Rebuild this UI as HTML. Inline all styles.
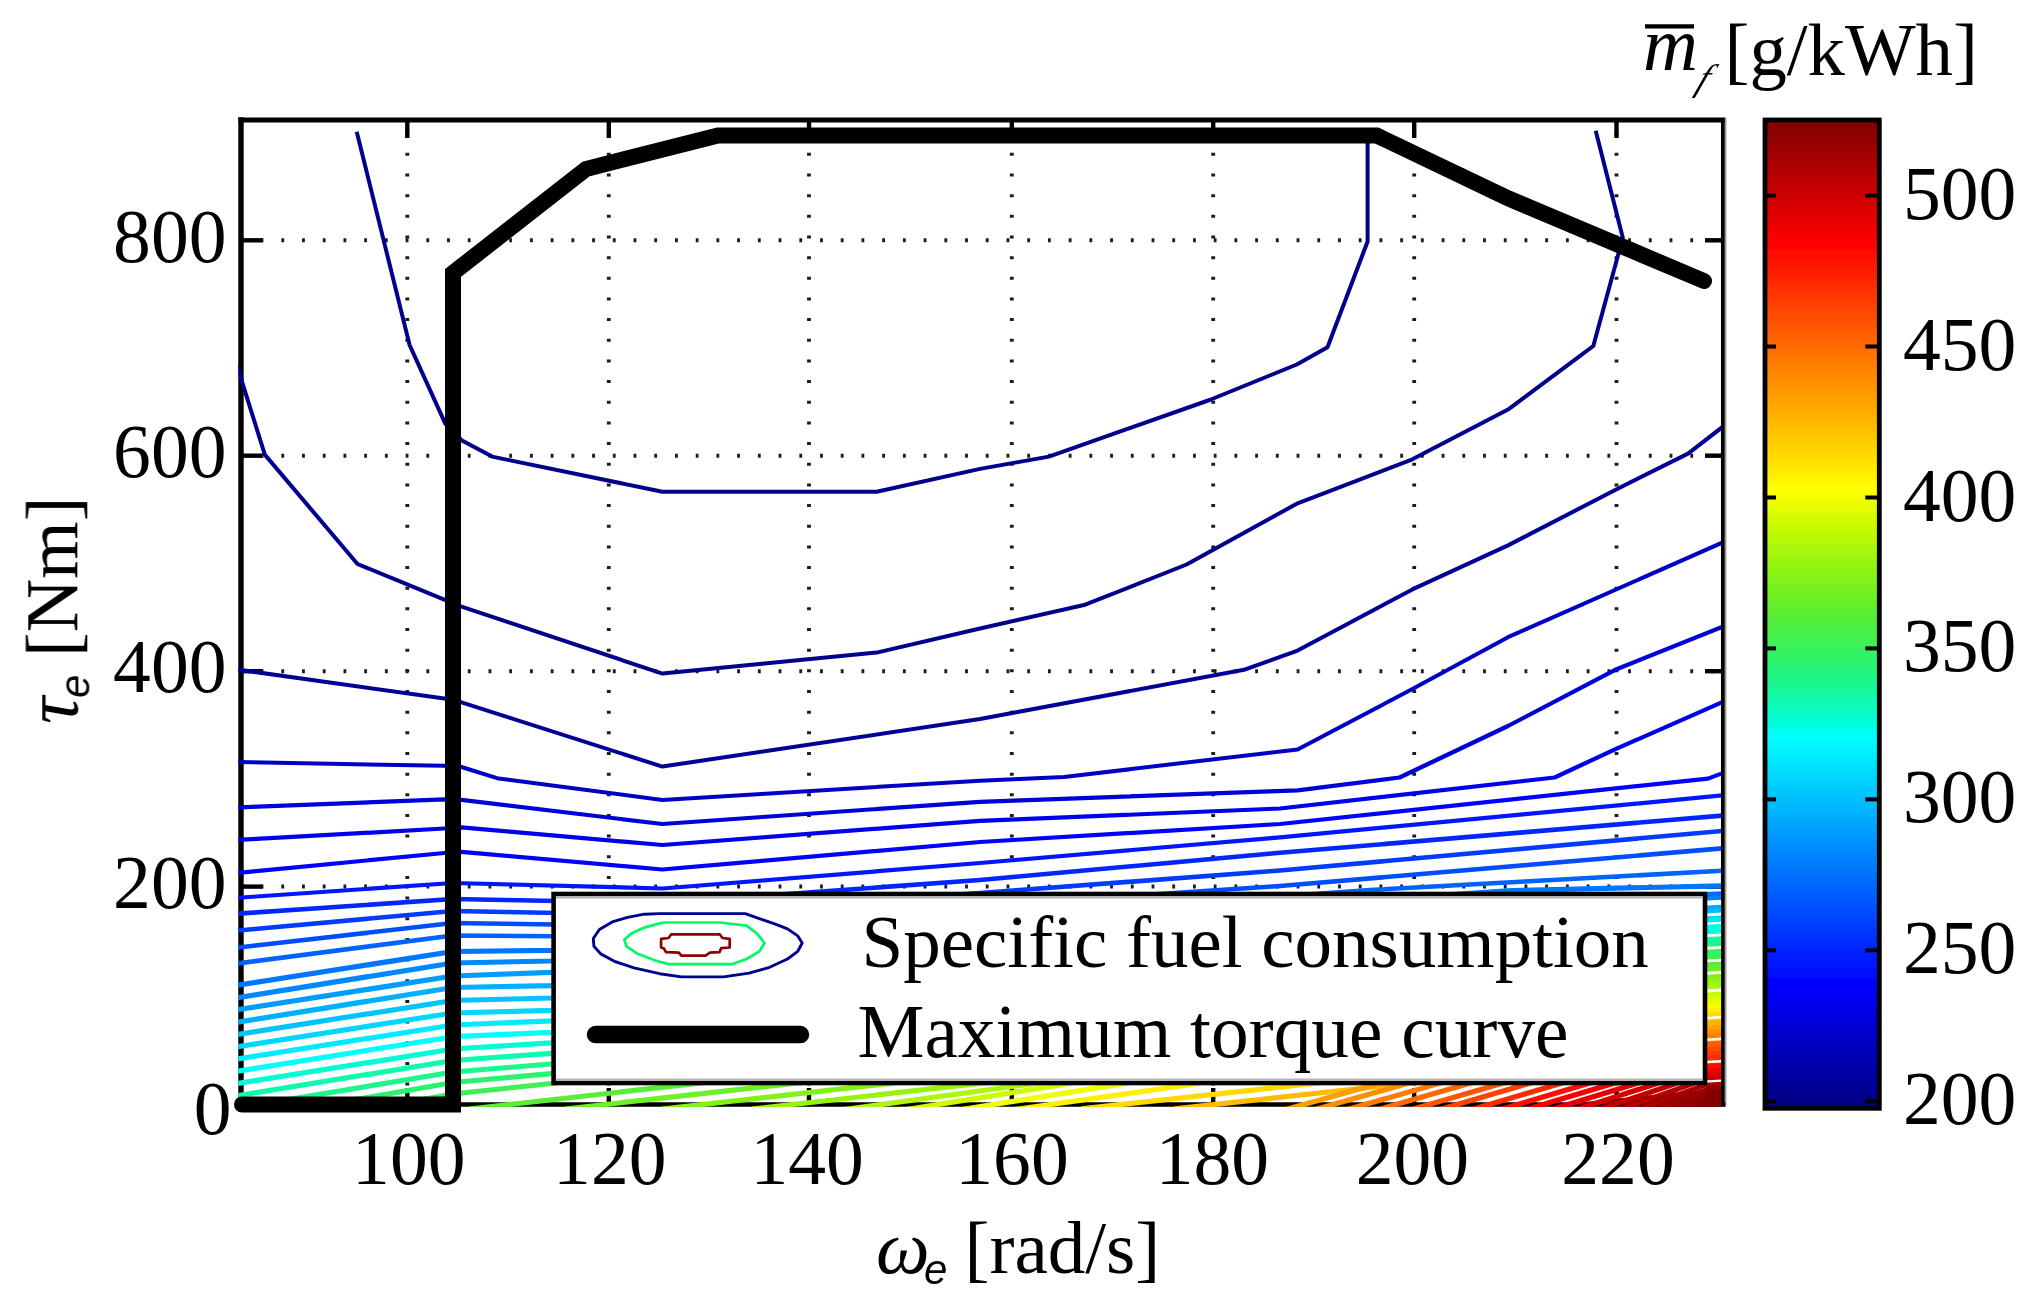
<!DOCTYPE html>
<html lang="en"><head><meta charset="utf-8"><title>Specific fuel consumption map</title>
<style>html,body{margin:0;padding:0;background:#fff}svg{display:block}text{font-family:"Liberation Serif","DejaVu Serif",serif;fill:#000}.i{font-style:italic}.ss{font-family:"Liberation Sans","DejaVu Sans",sans-serif;font-style:italic}</style></head><body>
<svg width="2032" height="1307" viewBox="0 0 2032 1307">
<defs>
<clipPath id="axclip"><rect x="238.3" y="117.4" width="1482.8" height="989.5"/></clipPath>
<linearGradient id="jet" x1="0" y1="1" x2="0" y2="0"><stop offset="0.0000" stop-color="#000080"/><stop offset="0.0156" stop-color="#00008f"/><stop offset="0.0312" stop-color="#00009f"/><stop offset="0.0469" stop-color="#0000af"/><stop offset="0.0625" stop-color="#0000bf"/><stop offset="0.0781" stop-color="#0000cf"/><stop offset="0.0938" stop-color="#0000df"/><stop offset="0.1094" stop-color="#0000ef"/><stop offset="0.1250" stop-color="#0000ff"/><stop offset="0.1406" stop-color="#0010ff"/><stop offset="0.1562" stop-color="#0020ff"/><stop offset="0.1719" stop-color="#0030ff"/><stop offset="0.1875" stop-color="#0040ff"/><stop offset="0.2031" stop-color="#0050ff"/><stop offset="0.2188" stop-color="#0060ff"/><stop offset="0.2344" stop-color="#0070ff"/><stop offset="0.2500" stop-color="#0080ff"/><stop offset="0.2656" stop-color="#008fff"/><stop offset="0.2812" stop-color="#009fff"/><stop offset="0.2969" stop-color="#00afff"/><stop offset="0.3125" stop-color="#00bfff"/><stop offset="0.3281" stop-color="#00cfff"/><stop offset="0.3438" stop-color="#00dfff"/><stop offset="0.3594" stop-color="#00efff"/><stop offset="0.3750" stop-color="#00ffff"/><stop offset="0.3906" stop-color="#04fddc"/><stop offset="0.4062" stop-color="#0bfbbc"/><stop offset="0.4219" stop-color="#15f89e"/><stop offset="0.4375" stop-color="#20f684"/><stop offset="0.4531" stop-color="#2df46c"/><stop offset="0.4688" stop-color="#3bf257"/><stop offset="0.4844" stop-color="#4aef44"/><stop offset="0.5000" stop-color="#5aed34"/><stop offset="0.5156" stop-color="#6cef26"/><stop offset="0.5312" stop-color="#7ef21b"/><stop offset="0.5469" stop-color="#91f412"/><stop offset="0.5625" stop-color="#a6f60b"/><stop offset="0.5781" stop-color="#bbf805"/><stop offset="0.5938" stop-color="#d1fb02"/><stop offset="0.6094" stop-color="#e7fd00"/><stop offset="0.6250" stop-color="#ffff00"/><stop offset="0.6406" stop-color="#ffef00"/><stop offset="0.6562" stop-color="#ffdf00"/><stop offset="0.6719" stop-color="#ffcf00"/><stop offset="0.6875" stop-color="#ffbf00"/><stop offset="0.7031" stop-color="#ffaf00"/><stop offset="0.7188" stop-color="#ff9f00"/><stop offset="0.7344" stop-color="#ff8f00"/><stop offset="0.7500" stop-color="#ff8000"/><stop offset="0.7656" stop-color="#ff7000"/><stop offset="0.7812" stop-color="#ff6000"/><stop offset="0.7969" stop-color="#ff5000"/><stop offset="0.8125" stop-color="#ff4000"/><stop offset="0.8281" stop-color="#ff3000"/><stop offset="0.8438" stop-color="#ff2000"/><stop offset="0.8594" stop-color="#ff1000"/><stop offset="0.8750" stop-color="#ff0000"/><stop offset="0.8906" stop-color="#ef0000"/><stop offset="0.9062" stop-color="#df0000"/><stop offset="0.9219" stop-color="#cf0000"/><stop offset="0.9375" stop-color="#bf0000"/><stop offset="0.9531" stop-color="#af0000"/><stop offset="0.9688" stop-color="#9f0000"/><stop offset="0.9844" stop-color="#8f0000"/><stop offset="1.0000" stop-color="#800000"/></linearGradient>
<filter id="soft" x="-2%" y="-2%" width="104%" height="104%"><feGaussianBlur stdDeviation="0.75"/></filter>
</defs>
<rect width="2032" height="1307" fill="#fff"/>
<g filter="url(#soft)">
<g stroke="#1a1a1a" stroke-width="3.8" fill="none" stroke-dasharray="3 17.66">
<line x1="407.3" y1="1106.2" x2="407.3" y2="120.0"/>
<line x1="608.8" y1="1106.2" x2="608.8" y2="120.0"/>
<line x1="809.0" y1="1106.2" x2="809.0" y2="120.0"/>
<line x1="1011.8" y1="1106.2" x2="1011.8" y2="120.0"/>
<line x1="1213.2" y1="1106.2" x2="1213.2" y2="120.0"/>
<line x1="1414.2" y1="1106.2" x2="1414.2" y2="120.0"/>
<line x1="1616.5" y1="1106.2" x2="1616.5" y2="120.0"/>
</g>
<g stroke="#1a1a1a" stroke-width="4" fill="none" stroke-dasharray="2.8 17.92">
<line x1="239.9" y1="886.6" x2="1723.0" y2="886.6"/>
<line x1="239.9" y1="671.2" x2="1723.0" y2="671.2"/>
<line x1="239.9" y1="455.7" x2="1723.0" y2="455.7"/>
<line x1="239.9" y1="240.3" x2="1723.0" y2="240.3"/>
</g>
<g stroke="#000" stroke-linecap="square">
<line x1="241.0" y1="120.0" x2="241.0" y2="1104.5" stroke-width="5.4"/>
<line x1="241.0" y1="120.0" x2="1723.0" y2="120.0" stroke-width="5.2"/>
<line x1="1722.9" y1="120.0" x2="1722.9" y2="1104.5" stroke-width="3.9"/>
<line x1="1725.6" y1="118.0" x2="1725.6" y2="1106.5" stroke-width="1.6" stroke="#999" stroke-linecap="butt"/>
<line x1="241.0" y1="1104.5" x2="1723.0" y2="1104.5" stroke-width="4.6"/>
</g>
<g stroke="#000" stroke-width="4.4">
<line x1="407.3" y1="120.0" x2="407.3" y2="138.0"/>
<line x1="407.3" y1="1104.5" x2="407.3" y2="1088.0"/>
<line x1="608.8" y1="120.0" x2="608.8" y2="138.0"/>
<line x1="608.8" y1="1104.5" x2="608.8" y2="1088.0"/>
<line x1="809.0" y1="120.0" x2="809.0" y2="138.0"/>
<line x1="809.0" y1="1104.5" x2="809.0" y2="1088.0"/>
<line x1="1011.8" y1="120.0" x2="1011.8" y2="138.0"/>
<line x1="1011.8" y1="1104.5" x2="1011.8" y2="1088.0"/>
<line x1="1213.2" y1="120.0" x2="1213.2" y2="138.0"/>
<line x1="1213.2" y1="1104.5" x2="1213.2" y2="1088.0"/>
<line x1="1414.2" y1="120.0" x2="1414.2" y2="138.0"/>
<line x1="1414.2" y1="1104.5" x2="1414.2" y2="1088.0"/>
<line x1="1616.5" y1="120.0" x2="1616.5" y2="138.0"/>
<line x1="1616.5" y1="1104.5" x2="1616.5" y2="1088.0"/>
<line x1="241.0" y1="886.6" x2="262.5" y2="886.6"/>
<line x1="1723.0" y1="886.6" x2="1705.0" y2="886.6"/>
<line x1="241.0" y1="671.2" x2="262.5" y2="671.2"/>
<line x1="1723.0" y1="671.2" x2="1705.0" y2="671.2"/>
<line x1="241.0" y1="455.7" x2="262.5" y2="455.7"/>
<line x1="1723.0" y1="455.7" x2="1705.0" y2="455.7"/>
<line x1="241.0" y1="240.3" x2="262.5" y2="240.3"/>
<line x1="1723.0" y1="240.3" x2="1705.0" y2="240.3"/>
</g>
<g clip-path="url(#axclip)" fill="none" stroke-width="5.2" stroke-linejoin="round">
<polygon points="1560.0,1104.5 1727.0,1104.5 1727.0,1089.0 1700.0,1090.0" fill="#8a0000" stroke="none"/>
<polyline points="356.7,131.7 409.6,345.0 445.3,423.7 461.5,440.2 492.1,456.6 662.4,491.8 876.7,491.8 980.0,468.9 1048.9,456.6 1209.6,400.0 1296.8,364.5 1327.5,347.3 1367.6,241.5 1367.6,136.0" stroke="#00008c" stroke-width="4.0"/>
<polyline points="237.0,365.5 264.8,454.6 357.5,564.0 444.3,599.7 461.5,606.6 662.4,673.6 876.7,652.6 980.0,628.5 1085.2,604.7 1186.6,564.5 1297.6,503.3 1412.4,459.3 1508.0,409.6 1593.3,346.0 1622.8,237.8 1595.7,130.8" stroke="#00008c" stroke-width="4.0"/>
<polyline points="237.0,669.5 444.3,698.5 461.5,702.3 662.4,766.6 980.0,719.0 1244.0,669.8 1297.6,650.6 1412.4,589.4 1508.0,545.4 1615.2,490.0 1688.0,453.6 1727.0,423.5" stroke="#000096" stroke-width="4.0"/>
<polyline points="237.0,762.0 444.3,765.8 461.5,767.0 497.0,778.2 662.4,799.9 980.0,780.7 1064.0,777.0 1297.6,749.5 1412.4,689.0 1508.0,637.2 1727.0,540.5" stroke="#0000c4" stroke-width="4.0"/>
<polyline points="237.0,807.5 444.3,799.3 461.5,799.8 662.4,824.0 980.0,801.8 1297.6,790.3 1399.6,777.5 1508.0,726.0 1615.2,669.8 1727.0,625.0" stroke="#0000d8" stroke-width="4.2"/>
<polyline points="237.0,840.0 444.3,828.5 461.5,827.4 662.4,845.0 980.0,820.9 1280.0,808.5 1554.6,777.5 1616.6,748.7 1727.0,700.0" stroke="#0000eb" stroke-width="4.2"/>
<polyline points="237.0,873.0 444.3,853.0 461.5,851.8 662.4,869.5 980.0,842.0 1280.0,824.0 1708.0,778.6 1727.0,771.5" stroke="#0000ff" stroke-width="4.2"/>
<polyline points="237.0,897.8 453.0,883.0 662.4,888.5 980.0,863.0 1280.0,837.3 1727.0,795.0" stroke="#0014ff" stroke-width="4.2"/>
<polyline points="237.0,913.7 453.0,899.0 662.4,903.0 980.0,880.0 1280.0,852.8 1727.0,815.2" stroke="#0027ff" stroke-width="4.6"/>
<polyline points="237.0,930.6 453.0,911.0 662.4,915.0 980.0,893.0 1280.0,870.5 1727.0,830.5" stroke="#003bff" stroke-width="4.6"/>
<polyline points="237.0,947.6 453.0,923.0 662.4,926.0 980.0,906.0 1280.0,886.0 1727.0,848.0" stroke="#004eff" stroke-width="4.6"/>
<polyline points="237.0,963.5 453.0,935.5 662.4,937.0 980.0,918.0 1370.0,890.0 1727.0,870.5" stroke="#0062ff" stroke-width="4.6"/>
<polyline points="237.0,985.4 453.0,951.5 551.0,950.4 1000.0,925.0 1512.0,890.5 1727.0,885.8" stroke="#0076ff" stroke-width="5.2"/>
<polyline points="237.0,997.7 453.0,963.0 551.0,961.0 700.0,947.0" stroke="#0089ff" stroke-width="5.2"/>
<polyline points="237.0,1009.9 453.0,976.0 551.0,972.4 700.0,958.4" stroke="#009dff" stroke-width="5.2"/>
<polyline points="237.0,1022.2 453.0,987.5 551.0,985.6 700.0,971.6" stroke="#00b0ff" stroke-width="5.2"/>
<polyline points="237.0,1034.5 453.0,1000.5 551.0,998.0 700.0,984.0" stroke="#00c4ff" stroke-width="5.2"/>
<polyline points="237.0,1046.8 453.0,1013.0 551.0,1010.3 700.0,996.3" stroke="#00d7ff" stroke-width="5.2"/>
<polyline points="237.0,1059.0 453.0,1025.0 551.0,1020.8 700.0,1006.8" stroke="#00ebff" stroke-width="5.2"/>
<polyline points="237.0,1071.3 453.0,1036.7 551.0,1032.3 700.0,1018.3" stroke="#00ffff" stroke-width="5.2"/>
<polyline points="237.0,1083.6 453.0,1049.0 551.0,1042.9 700.0,1028.9" stroke="#05fcd5" stroke-width="5.2"/>
<polyline points="237.0,1095.8 453.0,1060.5 551.0,1053.4 700.0,1039.4" stroke="#0ffaaf" stroke-width="5.2"/>
<polyline points="237.0,1108.1 453.0,1072.0 551.0,1064.0 700.0,1050.0" stroke="#1cf78c" stroke-width="5.2"/>
<polyline points="237.0,1120.4 453.0,1082.5 551.0,1073.7 700.0,1059.7" stroke="#2bf46e" stroke-width="5.2"/>
<polyline points="237.0,1132.6 453.0,1094.0 551.0,1083.5 700.0,1069.5" stroke="#3cf154" stroke-width="5.2"/>
<polyline points="469.0,1109.0 812.6,1070.5" stroke="#5aed34"/>
<polyline points="565.0,1109.0 908.6,1070.5" stroke="#6df025"/>
<polyline points="662.0,1109.0 1005.6,1070.5" stroke="#82f218"/>
<polyline points="752.0,1109.0 1095.6,1070.5" stroke="#97f410"/>
<polyline points="841.0,1110.0 1128.8,1070.5" stroke="#acf709"/>
<polyline points="898.0,1110.9 1150.5,1070.5" stroke="#cefa02"/>
<polyline points="953.5,1110.9 1206.0,1070.5" stroke="#f1fe00"/>
<polyline points="1010.6,1110.2 1289.5,1070.5" stroke="#fff000"/>
<polyline points="1081.5,1108.9 1430.6,1070.5" stroke="#ffd900"/>
<polyline points="1174.6,1108.9 1523.7,1070.5" stroke="#ffbb00"/>
<polyline points="1263.8,1115.7 1425.2,1070.5" stroke="#ff9e00"/>
<polyline points="1293.0,1115.8 1453.4,1070.5" stroke="#ff8d00"/>
<polyline points="1325.0,1115.9 1484.3,1070.5" stroke="#ff7b00"/>
<polyline points="1356.0,1116.0 1514.3,1070.5" stroke="#ff6a00"/>
<polyline points="1389.0,1116.1 1546.3,1070.5" stroke="#ff5500"/>
<polyline points="1417.0,1116.2 1573.4,1070.5" stroke="#ff4200"/>
<polyline points="1449.0,1116.3 1604.5,1070.5" stroke="#ff2b00"/>
<polyline points="1477.5,1116.4 1632.1,1070.5" stroke="#ff1000"/>
<polyline points="1503.0,1116.4 1656.8,1070.5" stroke="#f90000"/>
<polyline points="1528.0,1116.7 1679.1,1070.5" stroke="#e60000"/>
<polyline points="1552.0,1117.4 1697.0,1070.5" stroke="#d40000"/>
<polyline points="1574.0,1118.1 1714.0,1070.5" stroke="#c30000"/>
<polyline points="1594.0,1118.7 1729.8,1070.5" stroke="#b50000"/>
<polyline points="1612.0,1119.2 1744.4,1070.5" stroke="#a80000"/>
<polyline points="1628.0,1119.7 1757.5,1070.5" stroke="#9c0000"/>
<polyline points="1642.0,1120.1 1769.1,1070.5" stroke="#920000"/>
<polyline points="1654.0,1120.5 1779.2,1070.5" stroke="#890000"/>
<polyline points="1664.0,1120.8 1787.6,1070.5" stroke="#820000"/>
<polyline points="1672.0,1121.0 1794.4,1070.5" stroke="#800000"/>
<polyline points="1679.0,1121.2 1800.4,1070.5" stroke="#800000"/>
<polyline points="1706.0,894.7 1727.0,893.7" stroke="#006bff"/>
<polyline points="1706.0,899.0 1727.0,898.0" stroke="#007fff"/>
<polyline points="1706.0,903.3 1727.0,902.3" stroke="#0094ff"/>
<polyline points="1706.0,907.6 1727.0,906.6" stroke="#00a8ff"/>
<polyline points="1706.0,911.9 1727.0,910.9" stroke="#00bcff"/>
<polyline points="1706.0,916.2 1727.0,915.2" stroke="#00d0ff"/>
<polyline points="1706.0,920.5 1727.0,919.5" stroke="#00e5ff"/>
<polyline points="1706.0,924.8 1727.0,923.8" stroke="#00f9ff"/>
<polyline points="1706.0,929.1 1727.0,928.1" stroke="#02fee9"/>
<polyline points="1706.0,933.4 1727.0,932.4" stroke="#07fccc"/>
<polyline points="1706.0,937.7 1727.0,936.7" stroke="#0efab1"/>
<polyline points="1706.0,942.0 1727.0,941.0" stroke="#17f898"/>
<polyline points="1706.0,946.3 1727.0,945.3" stroke="#21f681"/>
<polyline points="1706.0,950.6 1727.0,949.6" stroke="#2cf46c"/>
<polyline points="1706.0,954.9 1727.0,953.9" stroke="#38f25a"/>
<polyline points="1706.0,959.2 1727.0,958.2" stroke="#45f049"/>
<polyline points="1706.0,963.5 1727.0,962.5" stroke="#53ee3a"/>
<polyline points="1706.0,967.8 1727.0,966.8" stroke="#62ee2d"/>
<polyline points="1706.0,972.1 1727.0,971.1" stroke="#70f023"/>
<polyline points="1706.0,976.4 1727.0,975.4" stroke="#7ff21a"/>
<polyline points="1706.0,980.7 1727.0,979.7" stroke="#8ff412"/>
<polyline points="1706.0,985.0 1727.0,984.0" stroke="#a0f50c"/>
<polyline points="1706.0,989.3 1727.0,988.3" stroke="#b1f708"/>
<polyline points="1706.0,993.6 1727.0,992.6" stroke="#c2f904"/>
<polyline points="1706.0,997.9 1727.0,996.9" stroke="#d5fb02"/>
<polyline points="1706.0,1002.2 1727.0,1001.2" stroke="#e7fd00"/>
<polyline points="1706.0,1006.5 1727.0,1005.5" stroke="#faff00"/>
<polyline points="1706.0,1010.8 1727.0,1009.8" stroke="#fff000"/>
<polyline points="1706.0,1015.1 1727.0,1014.1" stroke="#ffdc00"/>
<polyline points="1706.0,1019.4 1727.0,1018.4" stroke="#ffc900"/>
<polyline points="1706.0,1023.7 1727.0,1022.7" stroke="#ffb500"/>
<polyline points="1706.0,1028.0 1727.0,1027.0" stroke="#ffa200"/>
<polyline points="1706.0,1032.3 1727.0,1031.3" stroke="#ff8e00"/>
<polyline points="1706.0,1036.6 1727.0,1035.6" stroke="#ff7b00"/>
<polyline points="1706.0,1040.9 1727.0,1039.9" stroke="#ff6b00"/>
<polyline points="1706.0,1045.2 1727.0,1044.2" stroke="#ff5b00"/>
<polyline points="1706.0,1049.5 1727.0,1048.5" stroke="#ff4b00"/>
<polyline points="1706.0,1053.8 1727.0,1052.8" stroke="#ff3b00"/>
<polyline points="1706.0,1058.1 1727.0,1057.1" stroke="#ff2b00"/>
<polyline points="1706.0,1062.4 1727.0,1061.4" stroke="#ff1b00"/>
<polyline points="1706.0,1066.7 1727.0,1065.7" stroke="#ff0b00"/>
<polyline points="1706.0,1071.0 1727.0,1070.0" stroke="#f70000"/>
<polyline points="1706.0,1075.3 1727.0,1074.3" stroke="#df0000"/>
<polyline points="1706.0,1079.6 1727.0,1078.6" stroke="#c70000"/>
<polyline points="1706.0,1083.9 1727.0,1082.9" stroke="#af0000"/>
<polyline points="1706.0,1088.2 1727.0,1087.2" stroke="#970000"/>
<polyline points="1706.0,1092.5 1727.0,1091.5" stroke="#800000"/>
<polyline points="1706.0,1096.8 1727.0,1095.8" stroke="#800000"/>
<line x1="1703" y1="903.3" x2="1727.0" y2="901.9" stroke="#fff" stroke-width="5.0"/>
<line x1="1703" y1="915.1" x2="1727.0" y2="913.7" stroke="#fff" stroke-width="2.8"/>
<line x1="1703" y1="923.9" x2="1727.0" y2="922.5" stroke="#fff" stroke-width="2.0"/>
<line x1="1703" y1="935.9" x2="1727.0" y2="934.5" stroke="#fff" stroke-width="2.8"/>
<line x1="1703" y1="948.5" x2="1727.0" y2="947.1" stroke="#fff" stroke-width="2.8"/>
<line x1="1703" y1="961.2" x2="1727.0" y2="959.8" stroke="#fff" stroke-width="2.8"/>
<line x1="1703" y1="973.5" x2="1727.0" y2="972.1" stroke="#fff" stroke-width="2.8"/>
<line x1="1703" y1="991.2" x2="1727.0" y2="989.8" stroke="#fff" stroke-width="3.0"/>
<line x1="1703" y1="1018.2" x2="1727.0" y2="1016.8" stroke="#fff" stroke-width="2.6"/>
<line x1="1703" y1="1040.0" x2="1727.0" y2="1038.6" stroke="#fff" stroke-width="2.6"/>
<line x1="1703" y1="1062.2" x2="1727.0" y2="1060.8" stroke="#fff" stroke-width="2.6"/>
<line x1="1703" y1="1081.7" x2="1727.0" y2="1080.3" stroke="#fff" stroke-width="2.2"/>
</g>
<polyline points="242.0,1104.5 453.0,1104.5 453.0,273.0 586.0,169.0 718.0,135.5 1376.7,135.5 1508.4,198.4 1704.0,281.0" fill="none" stroke="#000" stroke-width="16" stroke-linejoin="miter" stroke-linecap="round"/>
<rect x="553.6" y="894.0" width="1151.4" height="189.0" fill="#fff" stroke="#000" stroke-width="4.6"/>
<line x1="555.9" y1="897.4" x2="1702.7" y2="897.4" stroke="#b4b4b4" stroke-width="2"/>
<line x1="555.9" y1="1079.6" x2="1702.7" y2="1079.6" stroke="#b4b4b4" stroke-width="2"/>
<g fill="none" stroke-linejoin="round">
<polygon points="659.6,913.6 745.3,913.6 759.4,918.7 774.7,923.8 787.5,928.9 797.8,935.9 802.2,943.0 797.8,951.3 787.5,959.0 769.6,967.3 749.1,973.1 723.6,976.9 681.3,976.9 659.6,973.7 634.0,967.9 614.8,961.5 600.7,953.9 593.9,946.2 593.3,938.5 599.4,929.5 612.2,921.9 627.6,917.4 644.2,914.2" stroke="#00008f" stroke-width="2.9"/>
<polygon points="664.7,922.5 719.7,922.5 746.6,925.7 756.8,933.4 764.5,943.0 759.4,951.3 746.6,959.0 732.5,964.1 668.5,964.1 654.5,960.3 636.5,953.2 626.3,946.2 624.4,939.8 631.4,933.4 644.2,927.6 659.6,923.4" stroke="#00fa64" stroke-width="2.7"/>
<polygon points="674.9,934.3 719.7,934.3 722.5,938.0 729.7,938.8 729.7,947.5 721.2,948.2 719.5,952.1 709.5,952.7 705.6,955.7 681.3,955.7 678.8,952.7 666.0,952.1 663.7,948.2 661.1,947.5 661.1,938.8 668.5,938.0 671.3,934.3" stroke="#8c0000" stroke-width="2.7"/>
</g>
<line x1="595.5" y1="1034.6" x2="800.5" y2="1034.6" stroke="#000" stroke-width="17.5" stroke-linecap="round"/>
<text x="861.5" y="967.3" font-size="75">Specific fuel consumption</text>
<text x="857.5" y="1057.3" font-size="75.3">Maximum torque curve</text>
<rect x="1765.0" y="120.0" width="114.3" height="988.3" fill="url(#jet)" stroke="#000" stroke-width="4.8"/>
<g stroke="#000" stroke-width="4">
<line x1="1765.0" y1="1101.3" x2="1776.0" y2="1101.3"/>
<line x1="1879.3" y1="1101.3" x2="1865.3" y2="1101.3"/>
<line x1="1765.0" y1="950.3" x2="1776.0" y2="950.3"/>
<line x1="1879.3" y1="950.3" x2="1865.3" y2="950.3"/>
<line x1="1765.0" y1="799.4" x2="1776.0" y2="799.4"/>
<line x1="1879.3" y1="799.4" x2="1865.3" y2="799.4"/>
<line x1="1765.0" y1="648.4" x2="1776.0" y2="648.4"/>
<line x1="1879.3" y1="648.4" x2="1865.3" y2="648.4"/>
<line x1="1765.0" y1="497.5" x2="1776.0" y2="497.5"/>
<line x1="1879.3" y1="497.5" x2="1865.3" y2="497.5"/>
<line x1="1765.0" y1="346.5" x2="1776.0" y2="346.5"/>
<line x1="1879.3" y1="346.5" x2="1865.3" y2="346.5"/>
<line x1="1765.0" y1="195.6" x2="1776.0" y2="195.6"/>
<line x1="1879.3" y1="195.6" x2="1865.3" y2="195.6"/>
</g>
<g font-size="75.6">
<text x="408.8" y="1183.5" text-anchor="middle">100</text>
<text x="609.8" y="1183.5" text-anchor="middle">120</text>
<text x="807.1" y="1183.5" text-anchor="middle">140</text>
<text x="1012.0" y="1183.5" text-anchor="middle">160</text>
<text x="1212.4" y="1183.5" text-anchor="middle">180</text>
<text x="1412.4" y="1183.5" text-anchor="middle">200</text>
<text x="1618.0" y="1183.5" text-anchor="middle">220</text>
<text x="226.5" y="907.8" text-anchor="end">200</text>
<text x="226.5" y="692.4" text-anchor="end">400</text>
<text x="226.5" y="476.9" text-anchor="end">600</text>
<text x="226.5" y="261.5" text-anchor="end">800</text>
<text x="231.5" y="1133.5" text-anchor="end">0</text>
<text x="1903" y="1124.3">200</text>
<text x="1903" y="973.3">250</text>
<text x="1903" y="822.4">300</text>
<text x="1903" y="671.4">350</text>
<text x="1903" y="520.5">400</text>
<text x="1903" y="369.5">450</text>
<text x="1903" y="218.6">500</text>
<text x="876" y="1273" class="i" font-size="76">ω</text>
<text x="924" y="1284.3" class="ss" font-size="42">e</text>
<text x="964.5" y="1273" font-size="75">[rad/s]</text>
<g transform="translate(77.3,724) rotate(-90)">
<text x="0" y="0" class="i" font-size="76">τ</text>
<text x="26" y="11.5" class="ss" font-size="42">e</text>
<text x="67" y="0" font-size="74">[Nm]</text>
</g>
<text x="1643" y="70" class="i" font-size="76">m</text>
<line x1="1645" y1="26.3" x2="1694" y2="26.3" stroke="#000" stroke-width="4.2"/>
<text transform="translate(1694.5,89.5) skewX(-22)" class="i" font-size="37">f</text>
<text x="1724.5" y="74.5" font-size="74.8">[g/kWh]</text>
</g>
</g>
</svg></body></html>
